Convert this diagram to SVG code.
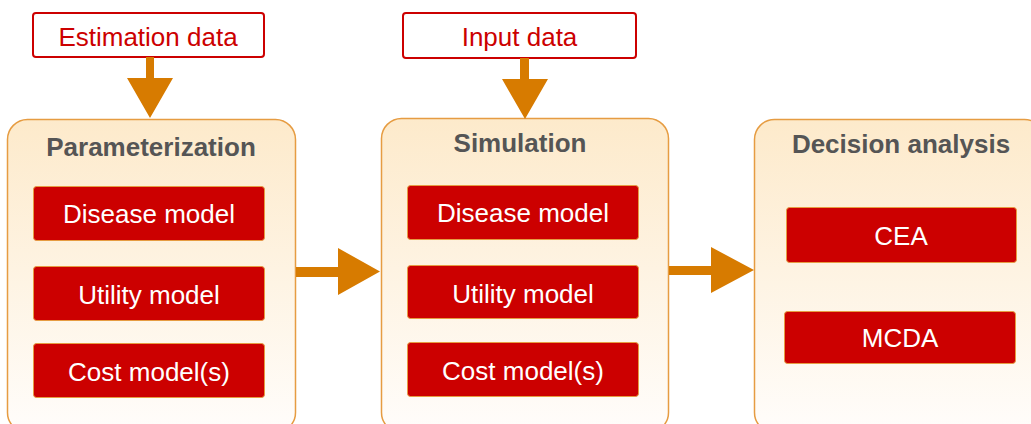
<svg xmlns="http://www.w3.org/2000/svg" width="1031" height="424" viewBox="0 0 1031 424">
<defs>
<linearGradient id="pg" x1="0" y1="0" x2="0" y2="1">
<stop offset="0" stop-color="#fdeacb"/>
<stop offset="1" stop-color="#fffdfb"/>
</linearGradient>
<style>
.panel{fill:url(#pg);stroke:#e69c42;stroke-width:1.5}
.title{font-family:"Liberation Sans",Arial,sans-serif;font-weight:bold;font-size:26px;fill:#555555;text-anchor:middle}
.box{fill:#cc0000;stroke:#e69c42;stroke-width:1}
.btxt{font-family:"Liberation Sans",Arial,sans-serif;font-size:26px;fill:#ffffff;text-anchor:middle}
.inbox{fill:#ffffff;stroke:#cc0000;stroke-width:2}
.intxt{font-family:"Liberation Sans",Arial,sans-serif;font-size:26px;fill:#cc0000;text-anchor:middle}
.arr{fill:#d77b00}
</style>
</defs>
<g id="estimation-data">
<rect class="inbox" x="33" y="13" width="231" height="44" rx="3"/>
<text class="intxt" x="148" y="46">Estimation data</text>
</g>
<g id="input-data">
<rect class="inbox" x="403" y="13" width="233" height="45" rx="3"/>
<text class="intxt" x="519.5" y="46">Input data</text>
</g>
<g id="parameterization">
<rect class="panel" x="7.5" y="119.5" width="288" height="313" rx="20"/>
<text class="title" x="151" y="156">Parameterization</text>
<rect class="box" x="33.5" y="186.5" width="231" height="54" rx="3"/>
<text class="btxt" x="149" y="223">Disease model</text>
<rect class="box" x="33.5" y="266.5" width="231" height="54" rx="3"/>
<text class="btxt" x="149" y="304">Utility model</text>
<rect class="box" x="33.5" y="343.5" width="231" height="54" rx="3"/>
<text class="btxt" x="149" y="381">Cost model(s)</text>
</g>
<g id="simulation">
<rect class="panel" x="381.5" y="118.5" width="287" height="314" rx="20"/>
<text class="title" x="520" y="152">Simulation</text>
<rect class="box" x="407.5" y="185.5" width="231" height="54" rx="3"/>
<text class="btxt" x="523" y="222">Disease model</text>
<rect class="box" x="407.5" y="265.5" width="231" height="53" rx="3"/>
<text class="btxt" x="523" y="303">Utility model</text>
<rect class="box" x="407.5" y="342.5" width="231" height="54" rx="3"/>
<text class="btxt" x="523" y="380">Cost model(s)</text>
</g>
<g id="decision-analysis">
<rect class="panel" x="754.5" y="119.5" width="290" height="313" rx="20"/>
<text class="title" x="901" y="153">Decision analysis</text>
<rect class="box" x="786.5" y="207.5" width="230" height="55" rx="3"/>
<text class="btxt" x="901" y="245">CEA</text>
<rect class="box" x="784.5" y="311.5" width="231" height="52" rx="3"/>
<text class="btxt" x="900" y="347">MCDA</text>
</g>
<g id="connectors">
<polygon class="arr" points="146,57 154,57 154,78 173,78 150,118 127,78 146,78"/>
<polygon class="arr" points="520,58 529,58 529,79 548,79 525,119 502,79 520,79"/>
<polygon class="arr" points="296,267 338,267 338,248 380,271.5 338,295 338,277 296,277"/>
<polygon class="arr" points="669,266 711,266 711,247 754,270 711,293 711,275 669,275"/>
</g>
</svg>
